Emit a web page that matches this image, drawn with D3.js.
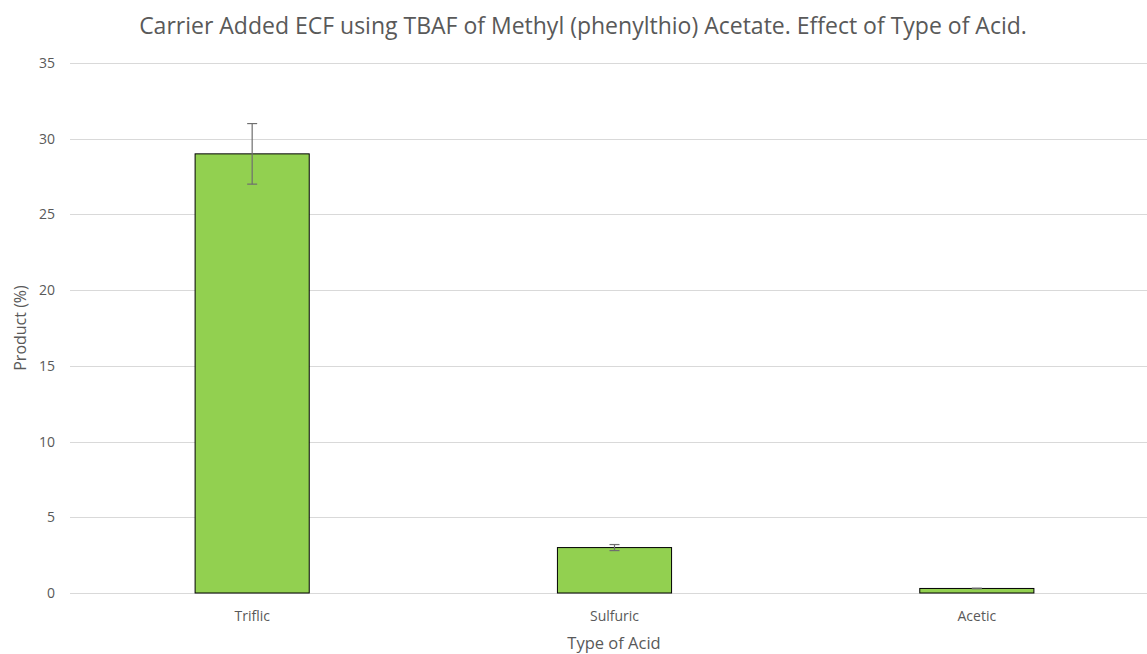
<!DOCTYPE html>
<html>
<head>
<meta charset="utf-8">
<script src="https://cdn.jsdelivr.net/npm/d3@7"></script>
<style>
  html, body { margin: 0; padding: 0; background: #fff; }
  svg { display: block; font-family: "Open Sans", sans-serif; }
</style>
</head>
<body>
<svg id="chart" width="1147" height="654"></svg>
<script>
// Product yield by acid type, with ± error
const categories = ["Triflic", "Sulfuric", "Acetic"];
const values = [29, 3, 0.3];
const errors = [2, 0.2, 0.02];
const yTicks = [0, 5, 10, 15, 20, 25, 30, 35];

const svg = d3.select("#chart");
const W = 1147, H = 654;
const plot = { left: 71, right: 1158, top: 63, bottom: 593 };
const FONT = "'Open Sans', sans-serif";

const x = d3.scaleBand().domain(categories).range([plot.left, plot.right]).paddingInner(0.685).paddingOuter(0.3425);
const y = d3.scaleLinear().domain([0, 35]).range([plot.bottom, plot.top]);

// Title
svg.append("text")
  .attr("x", 583).attr("y", 34)
  .attr("text-anchor", "middle")
  .attr("fill", "#595959")
  .attr("font-size", 23)
  .text("Carrier Added ECF using TBAF of Methyl (phenylthio) Acetate. Effect of Type of Acid.");

// Gridlines
svg.append("g").selectAll("line").data(yTicks).join("line")
  .attr("x1", 70).attr("x2", W)
  .attr("y1", d => Math.round(y(d)) + 0.5).attr("y2", d => Math.round(y(d)) + 0.5)
  .attr("stroke", "#d9d9d9").attr("stroke-width", 1);

// Y axis labels
const yAxis = d3.axisLeft(y).tickValues(yTicks).tickSize(0).tickPadding(0);
const gy = svg.append("g").attr("transform", "translate(55,0)").call(yAxis);
gy.select(".domain").remove();
gy.selectAll("text").attr("fill", "#595959").attr("font-size", 14).attr("font-family", FONT);

// Bars
svg.append("g").selectAll("rect").data(categories).join("rect")
  .attr("x", d => x(d))
  .attr("y", (d, i) => y(values[i]))
  .attr("width", x.bandwidth())
  .attr("height", (d, i) => y(0) - y(values[i]))
  .attr("fill", "#92d050")
  .attr("stroke", "#000")
  .attr("stroke-width", 1);

// Error bars
const eb = svg.append("g").attr("stroke", "#6f6f6f").attr("stroke-width", 1.2);
categories.forEach((c, i) => {
  const cx = x(c) + x.bandwidth() / 2;
  const hi = y(values[i] + errors[i]), lo = y(values[i] - errors[i]);
  eb.append("line").attr("x1", cx).attr("x2", cx).attr("y1", hi).attr("y2", lo);
  eb.append("line").attr("x1", cx - 5).attr("x2", cx + 5).attr("y1", hi).attr("y2", hi);
  eb.append("line").attr("x1", cx - 5).attr("x2", cx + 5).attr("y1", lo).attr("y2", lo);
});

// X axis labels
const xAxis = d3.axisBottom(x).tickSize(0).tickPadding(0);
const gx = svg.append("g").attr("transform", "translate(0,611)").call(xAxis);
gx.select(".domain").remove();
gx.selectAll("text").attr("fill", "#595959").attr("font-size", 14).attr("font-family", FONT);

// Axis titles
svg.append("text")
  .attr("x", 614).attr("y", 649)
  .attr("text-anchor", "middle")
  .attr("fill", "#595959").attr("font-size", 16.5)
  .text("Type of Acid");

svg.append("text")
  .attr("transform", "translate(26,328) rotate(-90)")
  .attr("text-anchor", "middle")
  .attr("fill", "#595959").attr("font-size", 16)
  .text("Product (%)");
</script>
</body>
</html>
